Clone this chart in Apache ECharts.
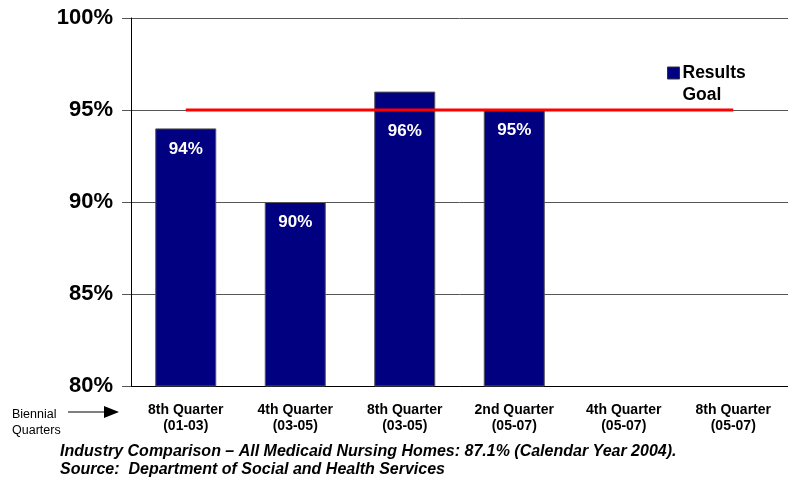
<!DOCTYPE html>
<html>
<head>
<meta charset="utf-8">
<script src="https://cdn.jsdelivr.net/npm/echarts@6/dist/echarts.min.js"></script>
<style>
  html, body { margin: 0; padding: 0; background: #fff; }
  #chart { width: 788px; height: 478px; }
</style>
</head>
<body>
<div id="chart"></div>
<script>
// Biennial quarter categories and measured results
const categories = [
  '8th Quarter\n(01-03)',
  '4th Quarter\n(03-05)',
  '8th Quarter\n(03-05)',
  '2nd Quarter\n(05-07)',
  '4th Quarter\n(05-07)',
  '8th Quarter\n(05-07)'
];
const results = [94, 90, 96, 95, null, null];
const goal = [95, 95, 95, 95, 95, 95];
const yTicks = [80, 85, 90, 95, 100];

const chart = echarts.init(document.getElementById('chart'));
const FONT = 'Liberation Sans, Arial, sans-serif';

// Bar value labels; the one sitting on the goal line is pushed below it
const barLabel = {
  show: true,
  position: 'insideTop',
  distance: 12,
  fontFamily: FONT,
  fontWeight: 'bold',
  fontSize: 17,
  color: '#fff',
  formatter: p => p.value + '%'
};
const barData = results.map(v =>
  v === 96 ? { value: v, label: { distance: 31 } } : v
);

chart.setOption({
  animation: false,
  grid: { left: 131, right: 0, top: 18, bottom: 92 },
  legend: {
    orient: 'vertical',
    left: 662,
    top: 59,
    itemWidth: 12,
    itemHeight: 12,
    itemGap: 4,
    selectedMode: false,
    textStyle: { fontFamily: FONT, fontWeight: 'bold', fontSize: 17.5, color: '#000', padding: [0, 0, 0, -2] },
    data: [
      { name: 'Results', icon: 'rect', itemStyle: { borderWidth: 1, borderColor: '#333' } },
      { name: 'Goal', icon: 'none' }
    ]
  },
  xAxis: {
    type: 'category',
    data: categories,
    axisLine: { lineStyle: { color: '#000', width: 1 } },
    axisTick: { show: false },
    axisLabel: {
      interval: 0,
      margin: 16,
      fontFamily: FONT,
      fontWeight: 'bold',
      fontSize: 14,
      lineHeight: 16,
      color: '#000'
    }
  },
  yAxis: {
    type: 'value',
    min: yTicks[0],
    max: yTicks[yTicks.length - 1],
    interval: 5,
    axisLine: { show: true, lineStyle: { color: '#000', width: 1 } },
    axisTick: { show: true, inside: false, length: 9, lineStyle: { color: '#555' } },
    splitLine: { show: true, lineStyle: { color: '#555', width: 1 } },
    axisLabel: {
      margin: 18,
      fontFamily: FONT,
      fontWeight: 'bold',
      fontSize: 22,
      color: '#000',
      formatter: v => v + '%'
    }
  },
  series: [
    {
      name: 'Results',
      type: 'bar',
      data: barData,
      barWidth: 61,
      itemStyle: { color: '#000080', borderColor: '#555', borderWidth: 1 },
      label: barLabel,
      z: 2
    },
    {
      name: 'Goal',
      type: 'line',
      data: goal,
      symbol: 'none',
      lineStyle: { color: '#ff0000', width: 3 },
      z: 3
    }
  ],
  graphic: [
    {
      type: 'text',
      left: 12,
      top: 407,
      style: { text: 'Biennial\nQuarters', font: '12.5px ' + FONT, fill: '#000', lineHeight: 16 }
    },
    {
      type: 'line',
      shape: { x1: 68, y1: 412, x2: 106, y2: 412 },
      style: { stroke: '#000', lineWidth: 1 }
    },
    {
      type: 'polygon',
      shape: { points: [[104, 406], [119, 412], [104, 418]] },
      style: { fill: '#000' }
    },
    {
      type: 'text',
      left: 60,
      top: 443,
      style: {
        text: 'Industry Comparison \u2013 All Medicaid Nursing Homes: 87.1% (Calendar Year 2004).\nSource:  Department of Social and Health Services',
        font: 'italic bold 16px ' + FONT,
        fill: '#000',
        lineHeight: 18
      }
    }
  ]
});
</script>
</body>
</html>
